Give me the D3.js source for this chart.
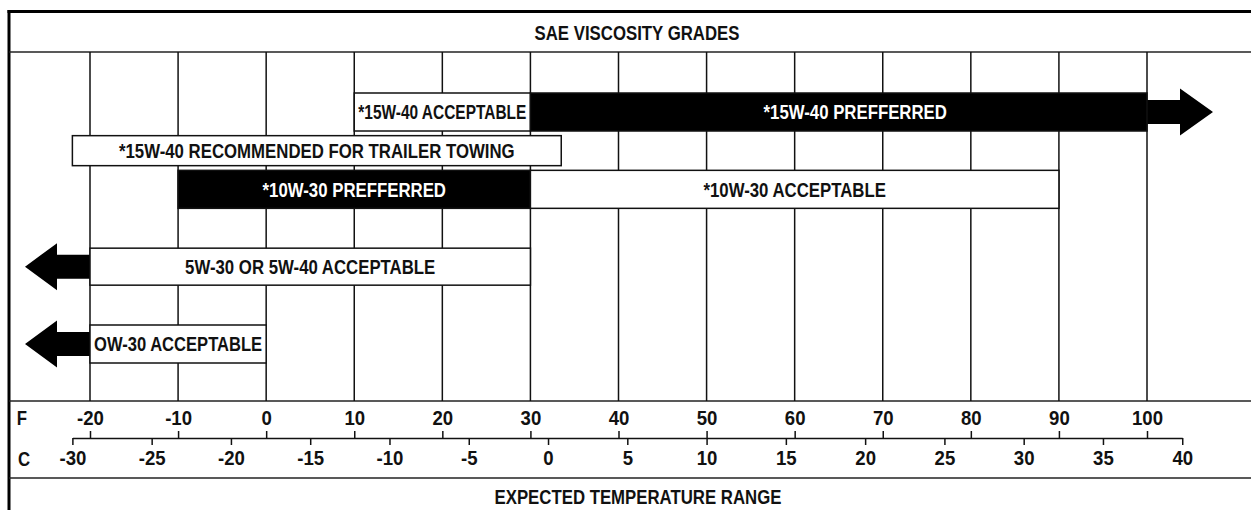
<!DOCTYPE html>
<html>
<head>
<meta charset="utf-8">
<script src="https://cdn.jsdelivr.net/npm/d3@7"></script>
<style>
  body { margin: 0; background: #fff; }
  text { font-family: "Liberation Sans", Arial, sans-serif; font-weight: bold; fill: #111; }
</style>
</head>
<body>
<div id="chart"></div>
<script>
// degrees F on the grid, degrees C on the lower scale
const fTicks = [-20, -10, 0, 10, 20, 30, 40, 50, 60, 70, 80, 90, 100];
const cTicks = [-30, -25, -20, -15, -10, -5, 0, 5, 10, 15, 20, 25, 30, 35, 40];

// oil ranges, in degrees F
const segLabels = ["*15W-40 ACCEPTABLE", "*15W-40 PREFFERRED", "*15W-40 RECOMMENDED FOR TRAILER TOWING",
    "*10W-30 PREFFERRED", "*10W-30 ACCEPTABLE", "5W-30 OR 5W-40 ACCEPTABLE", "OW-30 ACCEPTABLE"];
const segFrom = [10, 30, -22, -10, 30, -20, -20];
const segTo = [30, 100, 33.5, 30, 90, 30, 0];
const segRow = [0, 0, 1, 2, 2, 3, 4];
const segPreferred = [false, true, false, true, false, false, false];
const segArrow = ["", "right", "", "", "", "left", "left"];

const title = "SAE VISCOSITY GRADES";
const xTitle = "EXPECTED TEMPERATURE RANGE";

const width = 1251, height = 510;
const frameLeft = 9, frameTop = 11.5;
const headerY = 52, plotBottom = 401, axisY = 438, footerY = 478;
const fontSize = 20, squeeze = 0.84, tickSqueeze = 0.93;

const svg = d3.select("#chart").append("svg")
    .attr("width", width)
    .attr("height", height);

// condensed look: normal font squeezed horizontally, and
// squeezed a bit more when it would not fit in its box
function label(x, y, str, color, maxWidth) {
    const t = svg.append("text")
        .attr("dy", "0.36em")
        .attr("text-anchor", "middle")
        .style("font-size", fontSize + "px")
        .style("fill", color || "#111")
        .text(str);
    let sx = squeeze;
    if (maxWidth) {
        const w = t.node().getComputedTextLength();
        if (w * sx > maxWidth) sx = maxWidth / w;
    }
    t.attr("transform", `translate(${x},${y}) scale(${sx},1)`);
    return t;
}

const x = d3.scaleLinear().domain([-20, 100]).range([90, 1147]);
const xC = d3.scaleLinear()
    .domain([-30, 40])
    .range([x(-30 * 9 / 5 + 32), x(40 * 9 / 5 + 32)]);

// rows 4 and 5 sit lower, with empty slots between
const rowSlot = [0, 1, 2, 4, 6];
const y = d3.scaleLinear().domain([0, 6]).range([112, 344]);
const barH = [38, 30, 38, 37, 38];

// frame
svg.append("line")
    .attr("x1", frameLeft).attr("x2", frameLeft)
    .attr("y1", frameTop - 1.5).attr("y2", height)
    .attr("stroke", "#000").attr("stroke-width", 3);
svg.append("line")
    .attr("x1", frameLeft - 1.5).attr("x2", width)
    .attr("y1", frameTop).attr("y2", frameTop)
    .attr("stroke", "#000").attr("stroke-width", 3);

svg.selectAll(".hline")
    .data([headerY, plotBottom, footerY])
    .enter().append("line")
    .attr("class", "hline")
    .attr("x1", frameLeft).attr("x2", width)
    .attr("y1", d => d).attr("y2", d => d)
    .attr("stroke", "#222").attr("stroke-width", 1.5);

// grid
svg.selectAll(".grid")
    .data(fTicks)
    .enter().append("line")
    .attr("class", "grid")
    .attr("x1", d => x(d)).attr("x2", d => x(d))
    .attr("y1", headerY).attr("y2", plotBottom)
    .attr("stroke", "#111").attr("stroke-width", 1.5);

label(637, 33, title);

// bars
const segs = segLabels.map((name, i) => ({
    name, from: segFrom[i], to: segTo[i], row: segRow[i],
    preferred: segPreferred[i], arrow: segArrow[i]
}));

segs.forEach(d => {
    const cy = y(rowSlot[d.row]);
    const h = barH[d.row];
    const x0 = x(d.from), x1 = x(d.to);
    let textMid = (x0 + x1) / 2;

    if (d.arrow === "right") {
        svg.append("path")
            .attr("d", `M${x1 - 1},${cy - 12} H${x1 + 33} V${cy - 23.5} L${x1 + 66},${cy} L${x1 + 33},${cy + 23.5} V${cy + 12} H${x1 - 1} Z`)
            .attr("fill", "#000");
        textMid = (x0 + x1 + 33) / 2;
    }
    if (d.arrow === "left") {
        svg.append("path")
            .attr("d", `M${x0 + 1},${cy - 12} H${x0 - 33} V${cy - 23.5} L${x0 - 65},${cy} L${x0 - 33},${cy + 23.5} V${cy + 12} H${x0 + 1} Z`)
            .attr("fill", "#000");
    }

    svg.append("rect")
        .attr("x", x0).attr("y", cy - h / 2)
        .attr("width", x1 - x0).attr("height", h)
        .attr("fill", d.preferred ? "#000" : "#fff")
        .attr("stroke", "#111").attr("stroke-width", 1.5);

    label(textMid, cy, d.name, d.preferred ? "#fff" : "#111", x1 - x0 - 8);
});

// F ticks and labels above the line
const fAxis = svg.append("g")
    .attr("transform", `translate(0,${axisY})`)
    .call(d3.axisTop(x).tickValues(fTicks).tickSize(7).tickPadding(6).tickFormat(d => String(d)));
fAxis.select(".domain").remove();

// C scale below the line
const cAxis = svg.append("g")
    .attr("transform", `translate(0,${axisY})`)
    .call(d3.axisBottom(xC).tickValues(cTicks).tickSize(7).tickSizeOuter(0).tickPadding(6).tickFormat(d => String(d)));

svg.selectAll(".tick line").attr("stroke", "#111").attr("stroke-width", 1.5);
cAxis.select(".domain").attr("stroke", "#111").attr("stroke-width", 1.5);
svg.selectAll(".tick text")
    .attr("transform", `scale(${tickSqueeze},1)`)
    .style("font-size", "20px")
    .style("font-family", "\"Liberation Sans\", Arial, sans-serif")
    .style("font-weight", "bold")
    .attr("fill", "#111");

label(22, 418, "F");
label(24, 459, "C");
label(638, 497, xTitle);
</script>
</body>
</html>
